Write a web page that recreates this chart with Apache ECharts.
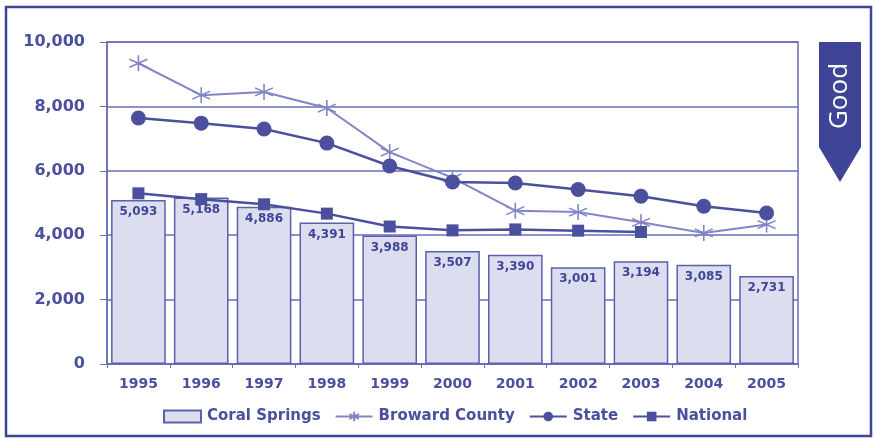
<!DOCTYPE html>
<html>
<head>
<meta charset="utf-8">
<script src="https://cdn.jsdelivr.net/npm/echarts@6/dist/echarts.min.js"></script>
<style>
  html, body { margin: 0; padding: 0; background: #fff; }
  #chart { width: 875px; height: 439px; }
</style>
</head>
<body>
<div id="chart"></div>
<script>
const years = ['1995', '1996', '1997', '1998', '1999', '2000', '2001', '2002', '2003', '2004', '2005'];
const coralSprings = [5093, 5168, 4886, 4391, 3988, 3507, 3390, 3001, 3194, 3085, 2731];
const broward = [9340, 8350, 8450, 7950, 6580, 5780, 4760, 4720, 4400, 4070, 4330];
const state = [7640, 7480, 7300, 6860, 6150, 5650, 5620, 5420, 5210, 4900, 4690];
const national = [5300, 5120, 4960, 4670, 4270, 4150, 4180, 4140, 4100, null, null];
const yTicks = { min: 0, max: 10000, interval: 2000 };

const navy = '#4a4f9e';
const dark = '#3f4596';
const light = '#8185c6';
const font = 'DejaVu Sans, sans-serif';
const star = 'path://M0,-10L0,10M-9,-5L9,5M-9,5L9,-5';

const chart = echarts.init(document.getElementById('chart'));

chart.setOption({
  animation: false,
  textStyle: { fontFamily: font },
  grid: {
    left: 107, right: 77, top: 42, bottom: 75,
    show: true, borderColor: '#6a6eb8', borderWidth: 1.5
  },
  legend: {
    bottom: 10,
    left: 158,
    itemGap: 14,
    itemWidth: 37,
    itemHeight: 12,
    textStyle: { color: navy, fontWeight: 'bold', fontSize: 15, fontFamily: font, padding: [0, 0, 0, 1] },
    data: [
      { name: 'Coral Springs', icon: 'rect' },
      'Broward County', 'State', 'National'
    ]
  },
  xAxis: {
    type: 'category',
    data: years,
    axisLine: { lineStyle: { color: '#6a6eb8', width: 1.5 } },
    axisTick: { show: true, length: 4, lineStyle: { color: '#6a6eb8' } },
    axisLabel: { color: navy, fontWeight: 'bold', fontSize: 14, margin: 13, fontFamily: font }
  },
  yAxis: {
    type: 'value',
    min: yTicks.min, max: yTicks.max, interval: yTicks.interval,
    axisLine: { show: true, lineStyle: { color: '#6a6eb8', width: 1.5 } },
    axisTick: { show: true, length: 7, lineStyle: { color: '#6a6eb8' } },
    axisLabel: {
      color: navy, fontWeight: 'bold', fontSize: 16, margin: 22, fontFamily: font,
      formatter: v => v.toLocaleString('en-US')
    },
    splitLine: { lineStyle: { color: '#6a6eb8', width: 1.5 } }
  },
  series: [
    {
      name: 'Coral Springs',
      type: 'bar',
      data: coralSprings,
      barWidth: '87%',
      itemStyle: { color: '#dcdef0', borderColor: '#5b60ad', borderWidth: 1.5 },
      label: {
        show: true, position: 'insideTop', distance: 6,
        color: dark, fontWeight: 'bold', fontSize: 12, fontFamily: font,
        formatter: p => p.value.toLocaleString('en-US')
      },
      z: 1
    },
    {
      name: 'Broward County',
      type: 'line',
      data: broward,
      symbol: star,
      symbolSize: [18, 16],
      lineStyle: { color: light, width: 2 },
      itemStyle: { color: 'none', borderColor: light, borderWidth: 1.5 },
      z: 3
    },
    {
      name: 'State',
      type: 'line',
      data: state,
      symbol: 'circle',
      symbolSize: 15,
      lineStyle: { color: navy, width: 2.5 },
      itemStyle: { color: navy },
      z: 4
    },
    {
      name: 'National',
      type: 'line',
      data: national,
      symbol: 'rect',
      symbolSize: 12,
      lineStyle: { color: navy, width: 2.5 },
      itemStyle: { color: navy },
      z: 4
    }
  ],
  graphic: [
    {
      type: 'rect',
      shape: { x: 6, y: 7, width: 865, height: 429 },
      style: { fill: 'none', stroke: dark, lineWidth: 2.5 },
      silent: true
    },
    {
      type: 'polygon',
      shape: { points: [[819, 42], [861, 42], [861, 147], [840, 182], [819, 147]] },
      style: { fill: dark }
    },
    {
      type: 'text',
      x: 840, y: 96,
      rotation: Math.PI / 2,
      style: {
        text: 'Good', fill: '#fff', fontSize: 26,
        fontFamily: 'Open Sans, sans-serif',
        align: 'center', verticalAlign: 'middle'
      }
    }
  ]
});
</script>
</body>
</html>
